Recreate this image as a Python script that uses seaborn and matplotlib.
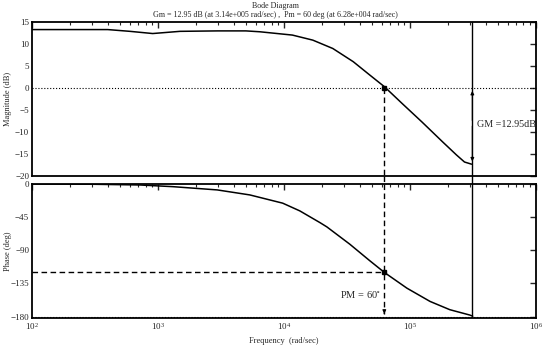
import numpy as np
import pandas as pd
import matplotlib
matplotlib.use("Agg")
import matplotlib.pyplot as plt
import seaborn as sns
from matplotlib.ticker import LogLocator, NullFormatter, FixedLocator

sns.set_style("white")
plt.rcParams['font.family'] = ['Liberation Serif', 'DejaVu Serif']
plt.rcParams['mathtext.fontset'] = 'stix'

# values
mag_freq = [100, 200, 400, 600, 910, 1500, 3000, 5000, 6460, 11700, 17000, 24500, 35600,
            48000, 63000, 87000, 125000, 182000, 235000, 272000, 310000]
mag_db = [13.3, 13.3, 13.3, 12.9, 12.4, 12.9, 13.0, 13.0, 12.8, 12.05, 10.9, 9.0, 6.0,
          3.0, 0.3, -3.5, -7.7, -12.2, -15.2, -16.8, -17.3]
ph_freq = [100, 300, 720, 1320, 2960, 5370, 9800, 13400, 19400, 22000, 33400, 48000,
           63000, 95000, 145000, 208000, 300000, 316000]
ph_deg = [0, -0.3, -1.3, -3.6, -8, -14.8, -26, -36.5, -52.5, -58.3, -81.7, -104,
          -120.2, -141.5, -159.5, -170.7, -178, -179.5]
wcg = 6.28e4
wcp = 3.14e5
gm_top = 0
gm_bot = -17.3
pm_phase = -120

mag = pd.DataFrame({'w': mag_freq, 'dB': mag_db})
ph = pd.DataFrame({'w': ph_freq, 'deg': ph_deg})

fig = plt.figure(figsize=(5.5, 3.48), dpi=100)
ax1 = fig.add_axes([0.058, 0.494, 0.916, 0.4425])
ax2 = fig.add_axes([0.058, 0.0862, 0.916, 0.385])

sns.lineplot(data=mag, x='w', y='dB', ax=ax1, color='black', lw=1.1, sort=False, estimator=None)
sns.lineplot(data=ph, x='w', y='deg', ax=ax2, color='black', lw=1.1, sort=False, estimator=None)

for ax in (ax1, ax2):
    ax.set_xscale('log')
    ax.set_xlim(1e2, 1e6)
    ax.xaxis.set_major_locator(LogLocator(base=10))
    ax.xaxis.set_minor_locator(LogLocator(base=10, subs=np.arange(2, 10)))
    ax.xaxis.set_minor_formatter(NullFormatter())
    ax.tick_params(which='both', direction='in', top=True, right=True, labelsize=6.5, pad=2)
    ax.tick_params(which='major', length=4, width=1)
    ax.tick_params(which='minor', length=2.5, width=0.8)
    for s in ax.spines.values():
        s.set_linewidth(1.3)
        s.set_color('black')
    ax.set_xlabel('')

ax1.set_ylim(-20, 15)
ax1.yaxis.set_major_locator(FixedLocator([15, 10, 5, 0, -5, -10, -15, -20]))
ax1.set_xticklabels([])
ax1.set_ylabel('Magnitude (dB)', fontsize=6)
ax1.yaxis.set_label_coords(-0.04, 0.5)
ax1.axhline(0, color='black', ls=':', lw=0.8)

ax2.set_ylim(-182, 0)
ax2.yaxis.set_major_locator(FixedLocator([0, -45, -90, -135, -180]))
ax2.set_ylabel('Phase (deg)', fontsize=6)
ax2.yaxis.set_label_coords(-0.04, 0.5)
ax2.set_xlabel('Frequency  (rad/sec)', fontsize=6, labelpad=4)
ax2.axhline(-180, color='black', ls=':', lw=0.8)
ax2.xaxis.set_major_formatter(matplotlib.ticker.LogFormatterMathtext())

# gain margin line and arrow
ax1.axvline(wcp, color='black', lw=1.0)
ax2.axvline(wcp, color='black', lw=1.0)
ax1.plot([wcp, wcp], [-20, -23], color='black', lw=1.0, clip_on=False)
ax1.annotate('', xy=(wcp, gm_top), xytext=(wcp, -8),
             arrowprops=dict(arrowstyle='-|>', color='black', lw=0.8, mutation_scale=5))
ax1.annotate('', xy=(wcp, gm_bot), xytext=(wcp, -8),
             arrowprops=dict(arrowstyle='-|>', color='black', lw=0.8, mutation_scale=5))
ax1.text(3.4e5, -8.3, 'GM =12.95dB', fontsize=7.3, va='center', ha='left')

# phase margin lines
ax1.plot([wcg, wcg], [gm_top, -20], color='black', ls='--', lw=1.0, dashes=(4, 2.5))
ax1.plot([wcg, wcg], [-20, -23], color='black', ls='--', lw=1.0, dashes=(4, 2.5), clip_on=False)
ax1.plot([wcg], [gm_top], marker='s', ms=2.5, color='black')
ax2.plot([wcg, wcg], [0, -176], color='black', ls='--', lw=1.0, dashes=(4, 2.5))
ax2.annotate('', xy=(wcg, -180), xytext=(wcg, -172),
             arrowprops=dict(arrowstyle='-|>', color='black', lw=0.8, mutation_scale=5))
ax2.plot([1e2, wcg], [pm_phase, pm_phase], color='black', ls='--', lw=1.0, dashes=(4, 2.5))
ax2.plot([wcg], [pm_phase], marker='s', ms=3, color='black')
ax2.text(5.9e4, -151, 'PM = 60$^{\\circ}$', fontsize=7.5, ha='right', va='center')

fig.text(0.5, 1 - 6 / 348, 'Bode Diagram', fontsize=5.8, ha='center', va='center')
fig.text(0.5, 1 - 15 / 348, 'Gm = 12.95 dB (at 3.14e+005 rad/sec) ,  Pm = 60 deg (at 6.28e+004 rad/sec)',
         fontsize=5.8, ha='center', va='center')

fig.savefig('out.png', dpi=100)
